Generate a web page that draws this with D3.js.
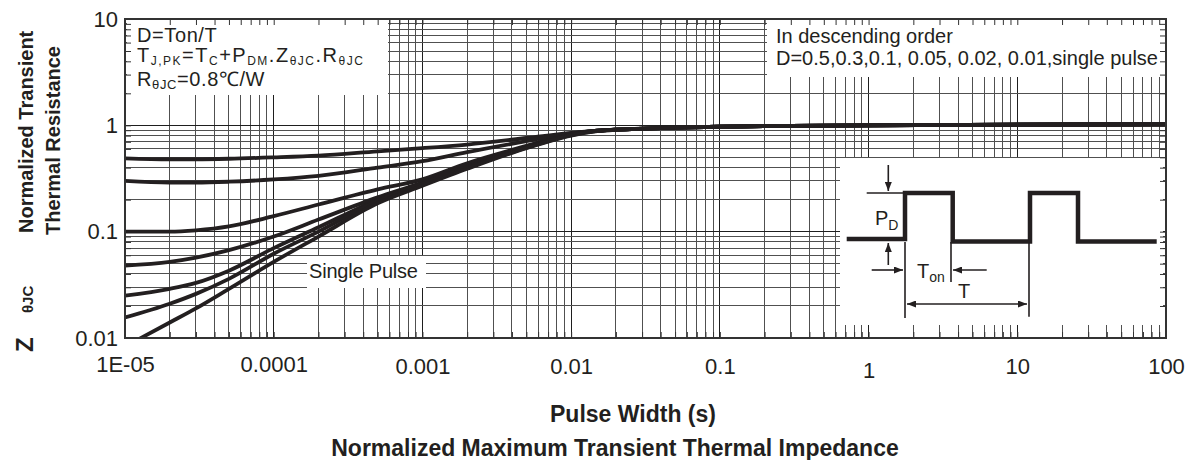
<!DOCTYPE html>
<html>
<head>
<meta charset="utf-8">
<script src="https://cdn.jsdelivr.net/npm/d3@7"></script>
<style>
	body { margin: 0; background: #fff; }
	text { font-family: "Liberation Sans", Arial, sans-serif; fill: #231f20; }
</style>
</head>
<body>
<main></main>
<script>
// pulse width (s) sample points shared by every curve
const pulseWidths = [1e-5, 2e-5, 3e-5, 5e-5, 1e-4, 2e-4, 5e-4, 1e-3, 2e-3, 5e-3, 1e-2, 1.5e-2, 2e-2, 5e-2, 0.1, 0.3, 1, 10, 100];

// normalized Z(thetaJC)
const zD050 = [0.49, 0.48, 0.48, 0.485, 0.50, 0.52, 0.57, 0.61, 0.66, 0.76, 0.85, 0.89, 0.91, 0.95, 0.97, 0.99, 1.0, 1.015, 1.02];
const zD030 = [0.30, 0.29, 0.29, 0.295, 0.31, 0.335, 0.40, 0.46, 0.56, 0.71, 0.84, 0.89, 0.91, 0.95, 0.97, 0.99, 1.0, 1.015, 1.02];
const zD010 = [0.10, 0.10, 0.103, 0.112, 0.14, 0.18, 0.25, 0.31, 0.44, 0.64, 0.83, 0.89, 0.91, 0.95, 0.97, 0.99, 1.0, 1.015, 1.02];
const zD005 = [0.048, 0.052, 0.057, 0.067, 0.09, 0.13, 0.21, 0.29, 0.42, 0.63, 0.82, 0.89, 0.91, 0.95, 0.97, 0.99, 1.0, 1.015, 1.02];
const zD002 = [0.025, 0.029, 0.033, 0.043, 0.07, 0.11, 0.20, 0.285, 0.41, 0.62, 0.82, 0.89, 0.91, 0.95, 0.97, 0.99, 1.0, 1.015, 1.02];
const zD001 = [0.0156, 0.021, 0.026, 0.036, 0.062, 0.10, 0.195, 0.28, 0.40, 0.615, 0.81, 0.885, 0.91, 0.95, 0.97, 0.99, 1.0, 1.015, 1.02];
const zSingle = [0.0083, 0.014, 0.019, 0.029, 0.052, 0.09, 0.185, 0.27, 0.39, 0.61, 0.80, 0.88, 0.91, 0.95, 0.97, 0.99, 1.0, 1.015, 1.02];

const seriesNames = ["D=0.5", "D=0.3", "D=0.1", "D=0.05", "D=0.02", "D=0.01", "single pulse"];
const seriesValues = [zD050, zD030, zD010, zD005, zD002, zD001, zSingle];

const xTicks = [1e-5, 1e-4, 1e-3, 1e-2, 0.1, 1, 10, 100];
const xTickLabels = ["1E-05", "0.0001", "0.001", "0.01", "0.1", "1", "10", "100"];
const yTicks = [0.01, 0.1, 1, 10];
const yTickLabels = ["0.01", "0.1", "1", "10"];

function drawChart() {
	const dimensions = {
		width: 1195,
		height: 460,
		margins: { top: 19, right: 29, bottom: 122, left: 125 },
	};
	dimensions.boundedWidth = dimensions.width - dimensions.margins.left - dimensions.margins.right;
	dimensions.boundedHeight = dimensions.height - dimensions.margins.top - dimensions.margins.bottom;
	const w = dimensions.boundedWidth;
	const h = dimensions.boundedHeight;

	const svg = d3.select("main")
		.append("svg")
		.attr("width", dimensions.width)
		.attr("height", dimensions.height);

	const defs = svg.append("defs");
	defs.append("clipPath").attr("id", "plot-clip")
		.append("rect").attr("width", w).attr("height", h);
	defs.append("marker")
		.attr("id", "arrow")
		.attr("viewBox", "0 0 10 10")
		.attr("refX", 10).attr("refY", 5)
		.attr("markerUnits", "userSpaceOnUse")
		.attr("markerWidth", 9).attr("markerHeight", 7)
		.attr("preserveAspectRatio", "none")
		.attr("orient", "auto-start-reverse")
		.append("path").attr("d", "M0,0 L10,5 L0,10 z").attr("fill", "#231f20");

	const graph = svg.append("g")
		.attr("transform", `translate(${dimensions.margins.left},${dimensions.margins.top})`);

	const xScale = d3.scaleLog().domain([1e-5, 100]).range([0, w]);
	const yScale = d3.scaleLog().domain([0.01, 10]).range([h, 0]);

	// log grid: 1..9 per decade
	const isDecade = d => Math.abs(Math.log10(d) - Math.round(Math.log10(d))) < 1e-9;
	const xGrid = [];
	for (let e = -5; e < 2; e++) for (let k = 1; k < 10; k++) xGrid.push(k * Math.pow(10, e));
	xGrid.push(100);
	const yGrid = [];
	for (let e = -2; e < 1; e++) for (let k = 1; k < 10; k++) yGrid.push(k * Math.pow(10, e));
	yGrid.push(10);

	const grid = graph.append("g").attr("shape-rendering", "crispEdges");
	grid.selectAll(".vgrid").data(xGrid).join("line")
		.attr("class", "vgrid")
		.attr("x1", d => xScale(d)).attr("x2", d => xScale(d))
		.attr("y1", 0).attr("y2", h)
		.attr("stroke", d => isDecade(d) ? "#1e1e1e" : "#505050")
		.attr("stroke-width", 1);
	grid.selectAll(".hgrid").data(yGrid).join("line")
		.attr("class", "hgrid")
		.attr("x1", 0).attr("x2", w)
		.attr("y1", d => yScale(d)).attr("y2", d => yScale(d))
		.attr("stroke", d => isDecade(d) ? "#1e1e1e" : "#505050")
		.attr("stroke-width", 1);

	// white boxes for the notes
	graph.append("rect").attr("x", 2).attr("y", 0).attr("width", 261).attr("height", 76).attr("fill", "#fff");
	graph.append("rect").attr("x", 642).attr("y", 0).attr("width", 399).attr("height", 58).attr("fill", "#fff");
	graph.append("rect").attr("x", 182).attr("y", 237).attr("width", 119).attr("height", 32).attr("fill", "#fff");
	graph.append("rect").attr("x", w - 326).attr("y", 139).attr("width", 323).attr("height", 167).attr("fill", "#fff");

	// inward ticks on all four sides
	const tickAxes = [
		{ gen: d3.axisTop(xScale).tickValues(xGrid), t: "translate(0,0)" },
		{ gen: d3.axisBottom(xScale).tickValues(xGrid), t: `translate(0,${h})` },
		{ gen: d3.axisLeft(yScale).tickValues(yGrid), t: "translate(0,0)" },
		{ gen: d3.axisRight(yScale).tickValues(yGrid), t: `translate(${w},0)` },
	];
	tickAxes.forEach(a => {
		const g = graph.append("g")
			.attr("transform", a.t)
			.call(a.gen.tickSizeInner(-6).tickSizeOuter(0).tickFormat(""));
		g.select(".domain").remove();
		g.selectAll(".tick line").attr("stroke", "#333");
	});

	// curves
	const lineGen = d3.line()
		.x(d => xScale(d[0]))
		.y(d => yScale(d[1]))
		.curve(d3.curveMonotoneX);
	graph.append("g")
		.attr("clip-path", "url(#plot-clip)")
		.selectAll("path")
		.data(seriesValues)
		.join("path")
		.attr("d", vals => lineGen(pulseWidths.map((t, i) => [t, vals[i]])))
		.attr("data-name", (d, i) => seriesNames[i])
		.attr("fill", "none")
		.attr("stroke", "#231f20")
		.attr("stroke-width", 3.8)
		.attr("stroke-linejoin", "round");

	// frame
	graph.append("rect")
		.attr("width", w).attr("height", h)
		.attr("fill", "none")
		.attr("stroke", "#333")
		.attr("stroke-width", 2);

	// axes labels
	const xAxis = graph.append("g")
		.attr("transform", `translate(0,${h})`)
		.call(d3.axisBottom(xScale).tickValues(xTicks).tickFormat((d, i) => xTickLabels[i]).tickSize(0).tickPadding(18));
	xAxis.select(".domain").remove();
	xAxis.selectAll("text")
		.attr("font-size", 22)
		.attr("font-family", "Liberation Sans, Arial, sans-serif")
		.attr("fill", "#231f20")
		.attr("dy", d => d === 1 ? "0.98em" : (d >= 1e-3 ? "0.82em" : "0.74em"));

	const yAxis = graph.append("g")
		.call(d3.axisLeft(yScale).tickValues(yTicks).tickFormat((d, i) => yTickLabels[i]).tickSize(0).tickPadding(7));
	yAxis.select(".domain").remove();
	yAxis.selectAll("text")
		.attr("font-size", 22)
		.attr("font-family", "Liberation Sans, Arial, sans-serif")
		.attr("fill", "#231f20");

	svg.append("text")
		.attr("x", 633).attr("y", 422)
		.attr("text-anchor", "middle")
		.style("font-size", "23px").style("font-weight", "bold")
		.text("Pulse Width (s)");
	svg.append("text")
		.attr("x", 615).attr("y", 456)
		.attr("text-anchor", "middle")
		.style("font-size", "23px").style("font-weight", "bold")
		.text("Normalized Maximum Transient Thermal Impedance");

	// rotated y label
	svg.append("text")
		.attr("transform", "translate(33,352) rotate(-90)")
		.style("font-size", "24px").style("font-weight", "bold")
		.text("Z");
	svg.append("text")
		.attr("transform", "translate(33,313) rotate(-90)")
		.style("font-size", "15px").style("font-weight", "bold")
		.text("θJC");
	svg.append("text")
		.attr("transform", "translate(33,233) rotate(-90)")
		.style("font-size", "20px").style("font-weight", "bold")
		.text("Normalized Transient");
	svg.append("text")
		.attr("transform", "translate(60,235) rotate(-90)")
		.style("font-size", "20px").style("font-weight", "bold")
		.text("Thermal Resistance");

	// notes
	function richText(sel, parts, subSize, shift) {
		let down = false;
		parts.forEach(([s, sub]) => {
			const t = sel.append("tspan").text(s);
			if (sub) {
				t.style("font-size", subSize + "px");
				if (!down) { t.attr("dy", shift); down = true; }
			} else if (down) {
				t.attr("dy", -shift);
				down = false;
			}
		});
	}
	const note = graph.append("g").style("font-size", "20px").style("letter-spacing", "0.6px");
	note.append("text").attr("x", 12).attr("y", 23).text("D=Ton/T");
	richText(note.append("text").attr("x", 12).attr("y", 43).style("letter-spacing", "1.5px"),
		[["T", false], ["J,PK", true], ["=T", false], ["C", true], ["+P", false], ["DM", true], [".Z", false], ["θJC", true], [".R", false], ["θJC", true]], 12, 3);
	richText(note.append("text").attr("x", 12).attr("y", 67),
		[["R", false], ["θJC", true], ["=0.8℃/W", false]], 13, 3);

	const note2 = graph.append("g").style("font-size", "20px");
	note2.append("text").attr("x", 651).attr("y", 24).text("In descending order");
	note2.append("text").attr("x", 651).attr("y", 46).text("D=0.5,0.3,0.1, 0.05, 0.02, 0.01,single pulse");

	graph.append("text")
		.attr("x", 184).attr("y", 259)
		.style("font-size", "20px").style("letter-spacing", "-0.2px")
		.text("Single Pulse");

	// duty cycle sketch
	const inset = graph.append("g").attr("transform", `translate(${w - 326},139)`);
	const wave = [[6.7, 81], [65, 81], [65, 35], [112.7, 35], [112.7, 83.5], [190, 83.5], [190, 35], [238, 35], [238, 83.5], [316.7, 83.5]];
	inset.append("path")
		.attr("d", d3.line()(wave))
		.attr("fill", "none")
		.attr("stroke", "#231f20")
		.attr("stroke-width", 4.5)
		.attr("stroke-linejoin", "miter");
	const thin = [
		[[26.7, 35], [65, 35], false],
		[[48.3, 7], [48.3, 33], true],
		[[48.3, 107], [48.3, 85], true],
		[[65, 84], [65, 160], false],
		[[111, 84], [111, 124], false],
		[[31.7, 112], [63, 112], true],
		[[146.7, 112], [113, 112], true],
		[[189, 84], [189, 158.7], false],
	];
	thin.forEach(([a, b, arrow]) => {
		inset.append("line")
			.attr("x1", a[0]).attr("y1", a[1]).attr("x2", b[0]).attr("y2", b[1])
			.attr("stroke", "#231f20").attr("stroke-width", 1.6)
			.attr("marker-end", arrow ? "url(#arrow)" : null);
	});
	inset.append("line")
		.attr("x1", 67).attr("y1", 146).attr("x2", 187).attr("y2", 146)
		.attr("stroke", "#231f20").attr("stroke-width", 1.6)
		.attr("marker-start", "url(#arrow)")
		.attr("marker-end", "url(#arrow)");
	const insetText = inset.append("g").style("font-size", "20px");
	richText(insetText.append("text").attr("x", 35).attr("y", 67), [["P", false], ["D", true]], 14, 5);
	richText(insetText.append("text").attr("x", 77).attr("y", 120), [["T", false], ["on", true]], 14, 4);
	insetText.append("text").attr("x", 118).attr("y", 140).text("T");
}
drawChart();
</script>
</body>
</html>
